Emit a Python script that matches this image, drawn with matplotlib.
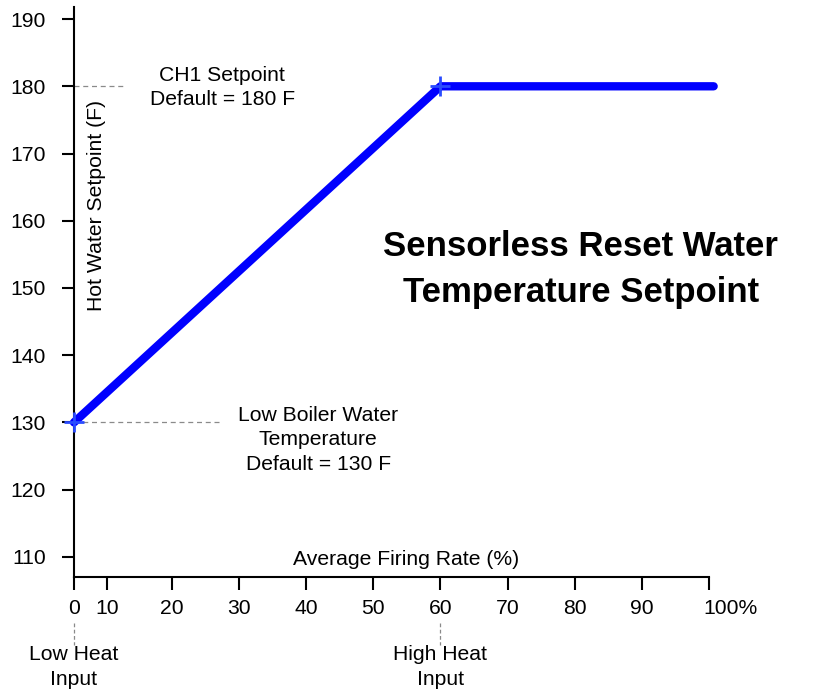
import matplotlib.pyplot as plt
import matplotlib.transforms as mtransforms

plt.rcParams['font.family'] = ['Liberation Sans', 'DejaVu Sans']

# ---------- data ----------
# the "0" tick of the original sits at 5.4 on an otherwise linear axis
firing_rate = [5.4, 60, 100.7]      # %
setpoint = [130, 180, 180]          # F
marker_x = [5.4, 60]
marker_y = [130, 180]

y_ticks = [110, 120, 130, 140, 150, 160, 170, 180, 190]
x_tick_pos = [5.4, 10.3, 20, 30, 40, 50, 60, 70, 80, 90, 100]
x_tick_labels = ["0", "10", "20", "30", "40", "50", "60", "70", "80", "90", "100%"]

ch1_setpoint = 180
low_boiler_temp = 130
low_heat_x = 5.4
high_heat_x = 60

FS = 15.2
LS = 1.38

# ---------- figure ----------
fig = plt.figure(figsize=(8.24, 6.92), dpi=100)
ax = fig.add_axes([0.0898, 0.1662, 0.7706, 0.8237])
ax.set_xlim(5.4, 100)
ax.set_ylim(107, 191.8)

for s in ["top", "right"]:
    ax.spines[s].set_visible(False)
for s in ["left", "bottom"]:
    ax.spines[s].set_linewidth(1.5)

ax.set_yticks(y_ticks)
ax.set_xticks(x_tick_pos)
ax.set_xticklabels(x_tick_labels)
ax.tick_params(axis="both", direction="out", length=9, width=1.5,
               labelsize=FS, colors="black")
ax.tick_params(axis="y", pad=11)
ax.tick_params(axis="x", pad=7)

# nudge "100%" so that the number sits on the tick
lbl = ax.get_xticklabels()[-1]
lbl.set_horizontalalignment("left")
lbl.set_transform(lbl.get_transform() + mtransforms.ScaledTranslation(-6 / 100, 0, fig.dpi_scale_trans))

# reference dashed lines
ax.plot([5.4, 12.7], [ch1_setpoint, ch1_setpoint], ls=(0, (4, 3)), color="#8a8a8a", lw=0.9)
ax.plot([5.4, 27.2], [low_boiler_temp, low_boiler_temp], ls=(0, (4, 3)), color="#8a8a8a", lw=0.9)
for xv in [low_heat_x, high_heat_x]:
    ax.plot([xv, xv], [100.2, 96.9], ls=(0, (3, 2)), color="#8a8a8a", lw=0.9, clip_on=False)

# main curve
ax.plot(firing_rate, setpoint, color="#0000ff", lw=6, solid_capstyle="round",
        solid_joinstyle="round", clip_on=False, zorder=3)
ax.plot(marker_x, marker_y, ls="none", marker="+", ms=14, mew=2, color="#2a4cff",
        clip_on=False, zorder=4)

# text
ax.text(27.5, 179.8, "CH1 Setpoint\nDefault = 180 F", ha="center", va="center",
        fontsize=FS, linespacing=LS)
ax.text(41.8, 127.4, "Low Boiler Water\nTemperature\nDefault = 130 F", ha="center",
        va="center", fontsize=FS, linespacing=LS)
ax.text(80.9, 152.7, "Sensorless Reset Water\nTemperature Setpoint", ha="center",
        va="center", fontsize=25, fontweight="bold", linespacing=1.5)
ax.text(54.8, 109.6, "Average Firing Rate (%)", ha="center", va="center", fontsize=FS)
ax.text(8.8, 162.2, "Hot Water Setpoint (F)", ha="center", va="center", fontsize=FS,
        rotation=90)
ax.text(low_heat_x, 93.6, "Low Heat\nInput", ha="center", va="center", fontsize=FS,
        linespacing=LS, clip_on=False)
ax.text(high_heat_x, 93.6, "High Heat\nInput", ha="center", va="center", fontsize=FS,
        linespacing=LS, clip_on=False)

fig.savefig("out.png", dpi=100)
